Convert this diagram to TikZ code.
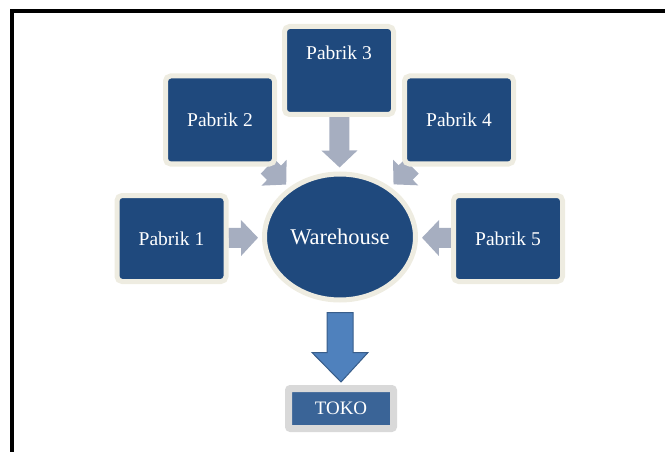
\documentclass[tikz,border=0pt]{standalone}
\usepackage{fontspec}
\setmainfont{Liberation Serif}
\usepackage{tikz}
\usepackage{xcolor}
\usetikzlibrary{shapes.geometric,arrows.meta,calc,backgrounds}
\definecolor{navy}{HTML}{1F497D}
\definecolor{beige}{HTML}{EEECE1}
\definecolor{abu}{HTML}{A6AEC0}
\definecolor{biru}{HTML}{4F81BD}
\definecolor{birutua}{HTML}{385D8A}
\definecolor{tokobiru}{HTML}{3A6497}
\definecolor{tokoabu}{HTML}{D9D9D9}

\begin{document}
\begin{tikzpicture}[x=1pt,y=-1pt,
  pabrik/.style={rectangle,rounded corners=5pt,fill=navy,draw=beige,line width=5pt,
    minimum width=109pt,minimum height=88pt,inner sep=0pt,text=white,
    font=\fontsize{19.5}{22}\selectfont},
  gudang/.style={ellipse,fill=navy,draw=beige,line width=5pt,
    minimum width=151pt,minimum height=126pt,inner sep=0pt,text=white,
    font=\fontsize{22.5}{26}\selectfont},
  toko/.style={rectangle,rounded corners=2pt,fill=tokobiru,draw=tokoabu,line width=7pt,
    minimum width=105pt,minimum height=40pt,inner sep=0pt,text=white,
    font=\fontsize{19}{22}\selectfont},
  panah/.style={abu,line width=20pt,-{Triangle[width=35pt,length=17pt]},shorten >=4pt},
  panahbiru/.style={fill=biru,draw=birutua,line width=1pt,line join=miter}]
\useasboundingbox (0,0) rectangle (665,452);
\draw[line width=4pt] (12,460) -- (12,11) -- (670,11);
% pabrik
\node[pabrik] (p3) at (339,70.5) {\raisebox{18pt}[\height][\depth]{Pabrik 3}};
\node[pabrik] (p2) at (220,120) {Pabrik 2};
\node[pabrik] (p4) at (459,120) {Pabrik 4};
\node[pabrik,minimum height=86pt] (p1) at (171.5,238.5) {Pabrik 1};
\node[pabrik,minimum height=86pt] (p5) at (508,238.5) {Pabrik 5};
\node[gudang] (wh) at (340,237) {Warehouse};
\node[toko] (toko) at (341,408.5) {TOKO};
% panah ke gudang
\begin{scope}[on background layer]
\draw[panah] (p1) -- (wh);
\draw[panah] (p2) -- (wh);
\draw[panah] (p3) -- (wh);
\draw[panah] (p4) -- (wh);
\draw[panah] (p5) -- (wh);
\end{scope}
% panah ke toko
\draw[panahbiru] ($(wh.south)+(-13,10)$) -- ($(wh.south)+(13,10)$) -- ($(wh.south)+(13,50)$)
  -- ($(wh.south)+(28,50)$) -- ($(toko.north)+(0,-3)$) -- ($(wh.south)+(-28,50)$)
  -- ($(wh.south)+(-13,50)$) -- cycle;
\end{tikzpicture}
\end{document}
